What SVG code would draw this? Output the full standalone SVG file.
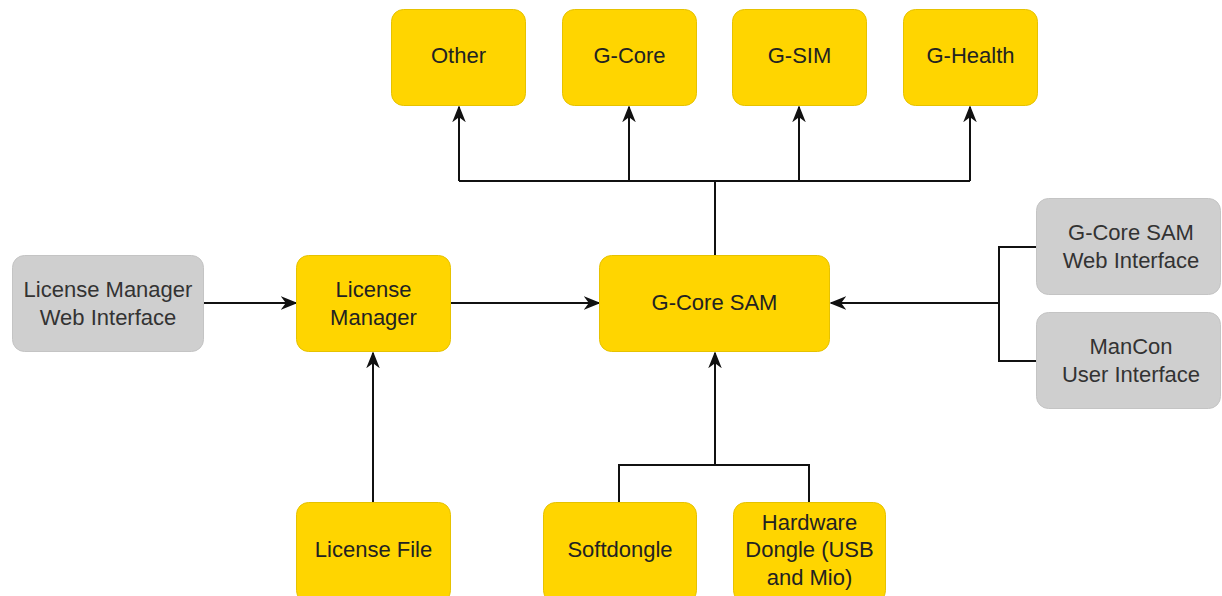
<svg xmlns="http://www.w3.org/2000/svg" width="1222" height="596" viewBox="0 0 1222 596">
<defs>
<style>
.y{fill:#FFD500;stroke:#E6C200;stroke-width:1}
.g{fill:#CFCFCF;stroke:#C4C4C4;stroke-width:1}
text{font-family:"Liberation Sans",Arial,sans-serif;font-size:22px;text-anchor:middle;fill:#222}
.gt{fill:#333}
.c{fill:none;stroke:#111;stroke-width:2}
.ar{marker-end:url(#a)}
</style>
<marker id="a" viewBox="0 0 10 10" refX="9" refY="5" markerWidth="17" markerHeight="17" orient="auto" markerUnits="userSpaceOnUse">
<path d="M0,1 L10,5 L0,9 L3,5 Z" fill="#111"/>
</marker>
</defs>
<rect width="1222" height="596" fill="#fff"/>
<g id="connectors">
<path class="c" d="M715,256 V181"/>
<path class="c" d="M459,181 H970"/>
<path class="c ar" d="M459,181 V107"/>
<path class="c ar" d="M629,181 V107"/>
<path class="c ar" d="M799,181 V107"/>
<path class="c ar" d="M970,181 V107"/>
<path class="c ar" d="M204,303 H296"/>
<path class="c ar" d="M451,303 H599"/>
<path class="c" d="M1036,247 H999 V361 H1036"/>
<path class="c ar" d="M999,303 H831"/>
<path class="c ar" d="M373,502 V353"/>
<path class="c" d="M619,502 V465 H809 V502"/>
<path class="c ar" d="M715,465 V353"/>
</g>
<g id="other"><rect class="y" x="391.5" y="9.5" width="134" height="96" rx="12"/><text x="458.5" y="63">Other</text></g>
<g id="gcore"><rect class="y" x="562.5" y="9.5" width="134" height="96" rx="12"/><text x="629.5" y="63">G-Core</text></g>
<g id="gsim"><rect class="y" x="732.5" y="9.5" width="134" height="96" rx="12"/><text x="799.5" y="63">G-SIM</text></g>
<g id="ghealth"><rect class="y" x="903.5" y="9.5" width="134" height="96" rx="12"/><text x="970.5" y="63">G-Health</text></g>
<g id="lmwi"><rect class="g" x="12.5" y="255.5" width="191" height="96" rx="12"/><text class="gt" x="108" y="297">License Manager</text><text class="gt" x="108" y="325">Web Interface</text></g>
<g id="lm"><rect class="y" x="296.5" y="255.5" width="154" height="96" rx="12"/><text x="373.5" y="297">License</text><text x="373.5" y="325">Manager</text></g>
<g id="gcsam"><rect class="y" x="599.5" y="255.5" width="230" height="96" rx="12"/><text x="714.5" y="310">G-Core SAM</text></g>
<g id="gcsamwi"><rect class="g" x="1036.5" y="198.5" width="184" height="96" rx="12"/><text class="gt" x="1131" y="240">G-Core SAM</text><text class="gt" x="1131" y="268">Web Interface</text></g>
<g id="mancon"><rect class="g" x="1036.5" y="312.5" width="184" height="96" rx="12"/><text class="gt" x="1131" y="354">ManCon</text><text class="gt" x="1131" y="382">User Interface</text></g>
<g id="lf"><rect class="y" x="296.5" y="502.5" width="154" height="100" rx="12"/><text x="373.5" y="557">License File</text></g>
<g id="soft"><rect class="y" x="543.5" y="502.5" width="153" height="100" rx="12"/><text x="620" y="557">Softdongle</text></g>
<g id="hw"><rect class="y" x="733.5" y="502.5" width="152" height="100" rx="12"/><text x="809.5" y="530">Hardware</text><text x="809.5" y="557">Dongle (USB</text><text x="809.5" y="585">and Mio)</text></g>
</svg>
